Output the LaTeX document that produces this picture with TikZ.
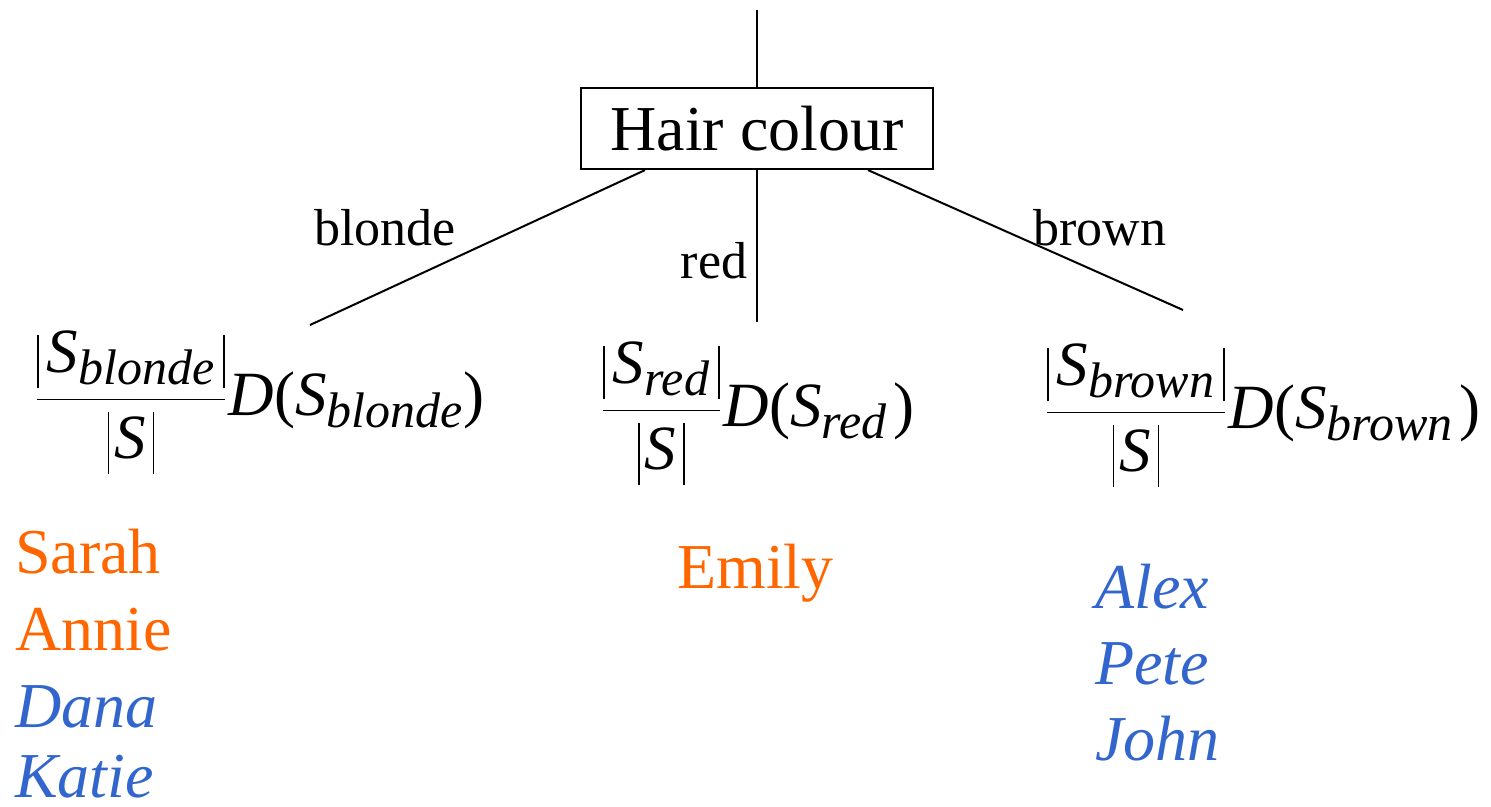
\RequirePackage{fix-cm}
\documentclass[tikz,border=0pt]{standalone}
\usepackage{amsmath}
\usepackage{fontspec}
\setmainfont{Liberation Serif}
\definecolor{girl}{HTML}{FF6600}
\definecolor{boy}{HTML}{3366CC}
\newcommand{\bigfont}{\fontsize{64}{77}\selectfont}
\newcommand{\lblfont}{\fontsize{52}{62}\selectfont}
\newcommand{\mainf}{\fontsize{63}{75}\selectfont}
\newcommand{\subf}{\fontsize{50}{60}\selectfont\itshape}
\newcommand{\Ssub}[1]{{\itshape S}\lower12pt\hbox{\subf #1}}
\newcommand{\absbox}[5]{\hbox{\vrule width 1.4pt height #2 depth #3\kern#4 #1\kern#5\vrule width 1.4pt height #2 depth #3}}
\newcommand{\wfrac}[1]{$\dfrac{\absbox{\Ssub{#1}}{37pt}{16pt}{8pt}{9pt}}{\absbox{\itshape S}{46pt}{16pt}{5pt}{7pt}}$\kern3pt}
\begin{document}
\begin{tikzpicture}[x=1pt,y=-1pt,
  edge/.style={line width=2pt},
  testbox/.style={draw,line width=2.2pt,minimum width=352pt,minimum height=81pt,inner sep=0pt,font=\bigfont},
  lbl/.style={font=\lblfont,inner sep=0pt,anchor=base},
  formula/.style={font=\mainf,inner sep=0pt,anchor=base west},
  gname/.style={font=\bigfont,inner sep=0pt,anchor=base west,text=girl},
  bname/.style={font=\bigfont\itshape,inner sep=0pt,anchor=base west,text=boy}]
\useasboundingbox (0,0) rectangle (1491,806);
\coordinate (top) at (757,10);
\node[testbox] (hc) at (757,128.5) {Hair colour};
\coordinate (eb) at (310,325);
\coordinate (er) at (757,322);
\coordinate (ew) at (1183,310);
\draw[edge] (top) -- (hc.north);
\draw[edge] (hc.south -| 645,0) -- (eb);
\draw[edge] (hc.south) -- (er);
\draw[edge] (hc.south -| 868,0) -- (ew);
\node[lbl] (lb) at (385,245) {blonde};
\node[lbl] (lr) at (714,278) {red};
\node[lbl] (lw) at (1100,245) {brown};
\node[formula] (fb) at (36,415) {\wfrac{blonde}{\itshape D}(\Ssub{blonde})};
\node[formula] (fr) at (602,426) {\wfrac{red}{\itshape D}(\Ssub{red}\kern7pt)};
\node[formula] (fw) at (1046,428) {\wfrac{brown}{\itshape D}(\Ssub{brown}\kern7pt)};
\node[gname] (n1) at (15,573) {Sarah};
\node[gname] (n2) at (15,650) {Annie};
\node[bname] (n3) at (15,727) {Dana};
\node[bname] (n4) at (15,797) {Katie};
\node[gname] (n5) at (677,588) {Emily};
\node[bname] (n6) at (1095,608) {Alex};
\node[bname] (n7) at (1095,684) {Pete};
\node[bname] (n8) at (1095,760) {John};
\end{tikzpicture}
\end{document}
